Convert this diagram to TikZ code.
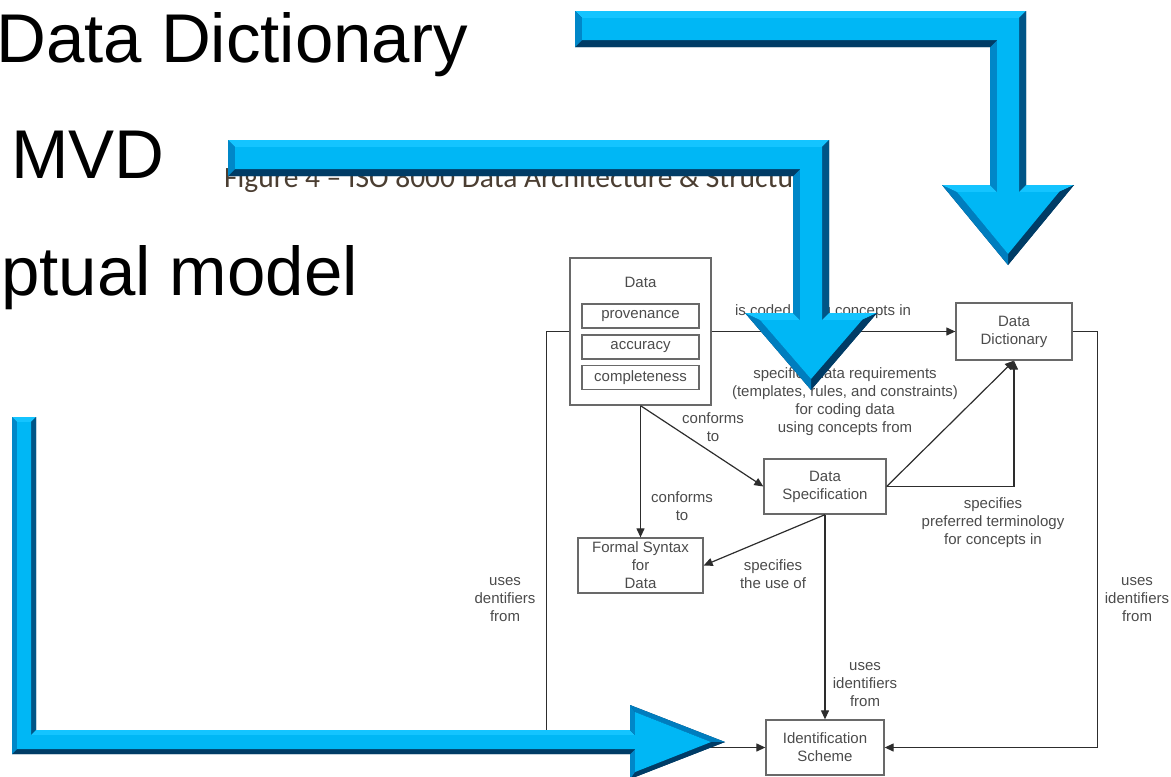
\documentclass[tikz,border=0pt]{standalone}
\usepackage{fontspec}
\setmainfont{Liberation Sans}
\newfontfamily\capfont{Carlito}
\usetikzlibrary{calc}
\usetikzlibrary{arrows.meta}
\definecolor{bevmain}{RGB}{0,183,245}
\definecolor{bevtop}{RGB}{20,196,255}
\definecolor{bevleft}{RGB}{0,135,200}
\definecolor{bevslant}{RGB}{0,125,190}
\definecolor{bevright}{RGB}{0,85,135}
\definecolor{bevdark}{RGB}{0,60,102}
\definecolor{linegray}{RGB}{45,45,45}
\definecolor{boxgray}{RGB}{105,105,105}
\definecolor{txtgray}{RGB}{75,75,75}
\definecolor{capgray}{RGB}{75,62,50}
\tikzset{box/.style={draw=boxgray,line width=1.3pt,inner sep=0pt,align=center,text=txtgray,font=\fontsize{15}{18}\selectfont}}
\tikzset{lbl/.style={inner sep=0pt,align=center,text=txtgray,font=\fontsize{15}{18}\selectfont}}
\tikzset{conn/.style={draw=linegray,line width=1.2pt,-{Triangle[length=9pt,width=8pt]}}}
\tikzset{bigtxt/.style={inner sep=0pt,anchor=base west,font=\fontsize{69}{80}\selectfont}}

\begin{document}
\begin{tikzpicture}[x=1pt,y=-1pt]
\useasboundingbox (0,0) rectangle (1171,777);
\clip (0,0) rectangle (1171,777);

% slide text
\node[bigtxt] (tdd) at (-4,62) {Data Dictionary};
\node[bigtxt] (tmvd) at (11,178) {MVD};
\node[bigtxt] (tcm) at (1,295) {ptual model};

% caption of the figure
\node[inner sep=0pt,anchor=base west,text=capgray,font=\capfont\fontsize{29.5}{34}\selectfont] (cap) at (224,187) {Figure 4 – ISO 8000 Data Architecture \& Structure};

% boxes
\node[box,minimum width=141pt,minimum height=147pt] (data) at (640.5,331.5) {};
\node[lbl] (datal) at (640.5,282) {Data};
\node[box,minimum width=117pt,minimum height=24pt] (prov) at (640.5,316) {provenance};
\node[box,minimum width=117pt,minimum height=24pt] (accu) at (640.5,347) {accuracy};
\node[box,minimum width=117pt,minimum height=24pt] (comp) at (640.5,377.5) {completeness};
\node[box,minimum width=116pt,minimum height=57pt] (dd) at (1014,331.5) {Data\\Dictionary};
\node[box,minimum width=122pt,minimum height=55pt] (spec) at (825,486.5) {Data\\Specification};
\node[box,minimum width=125pt,minimum height=55pt] (fsyn) at (640.5,565.5) {Formal Syntax\\for\\Data};
\node[box,minimum width=118pt,minimum height=55pt] (idsch) at (825,747.5) {Identification\\Scheme};

% connectors
\draw[conn] (data.east) -- (dd.west);
\draw[conn] (data.south) -- (fsyn.north);
\draw[conn] (data.south) -- (spec.west);
\draw[conn] (spec.east) -- (dd.south);
\draw[conn] (spec.east) -| (dd.south);
\draw[conn] (spec.south) -- (fsyn.east);
\draw[conn] (spec.south) -- (idsch.north);
\draw[conn] (data.west) -- ++(-23,0) |- (idsch.west);
\draw[conn] (dd.east) -- ++(25,0) |- (idsch.east);

% labels
\node[lbl] (lcoded) at (823,312) {is coded using concepts in};
\node[lbl] (lreq) at (845,401.5) {specifies data requirements\\(templates, rules, and constraints)\\for coding data\\using concepts from};
\node[lbl] (lconf1) at (713,427) {conforms\\to};
\node[lbl] (lconf2) at (682,506) {conforms\\to};
\node[lbl] (lterm) at (993,522.5) {specifies\\preferred terminology\\for concepts in};
\node[lbl] (luse) at (773,574) {specifies\\the use of};
\node[lbl] (lidmid) at (865,685) {uses\\identifiers\\from};
\node[lbl] (lidleft) at (505,600) {uses\\dentifiers\\from};
\node[lbl] (lidright) at (1137,600) {uses\\identifiers\\from};

% blue arrow to the data dictionary
\foreach \n/\x/\y in {1/575/11,2/1026/11,3/1026/185,4/1074/185,5/1008/265,6/942/185,7/990/185,8/990/47,9/575/47}
  \coordinate (a\n) at (\x,\y);
\foreach \n/\x/\y in {1/582/18,2/1019/18,3/1019/192,4/1059/192,5/1008/254,6/957/192,7/997/192,8/997/40,9/582/40}
  \coordinate (ai\n) at (\x,\y);

% blue arrow to the data specification
\foreach \n/\x/\y in {1/228/140,2/829/140,3/829/313,4/877/313,5/811/390,6/745/313,7/793/313,8/793/176,9/228/176}
  \coordinate (b\n) at (\x,\y);
\foreach \n/\x/\y in {1/235/147,2/822/147,3/822/320,4/862/320,5/811/379,6/760/320,7/800/320,8/800/169,9/235/169}
  \coordinate (bi\n) at (\x,\y);

\foreach \a in {a,b} {
  \fill[bevdark] (\a1) \foreach \n in {2,...,9} {-- (\a\n)} -- cycle;
  \foreach \p/\q/\c in {1/2/bevtop,2/3/bevright,3/4/bevtop,4/5/bevdark,5/6/bevslant,6/7/bevtop,7/8/bevleft,8/9/bevdark,9/1/bevleft}
    \fill[\c] (\a\p) -- (\a\q) -- (\a i\q) -- (\a i\p) -- cycle;
  \fill[bevmain] (\a i1) \foreach \n in {2,...,9} {-- (\a i\n)} -- cycle;
}

% blue arrow to the identification scheme
\foreach \n/\x/\y in {1/12/417,2/36/417,3/36/730,4/630/730,5/630/705,6/725/742,7/630/779,8/630/754,9/12/754}
  \coordinate (c\n) at (\x,\y);
\foreach \n/\x/\y in {1/17/422,2/31/422,3/31/735,4/635/735,5/635/712,6/711/742,7/635/772,8/635/749,9/17/749}
  \coordinate (ci\n) at (\x,\y);
\fill[bevdark] (c1) \foreach \n in {2,...,9} {-- (c\n)} -- cycle;
\foreach \p/\q/\c in {1/2/bevtop,2/3/bevright,3/4/bevtop,4/5/bevleft,5/6/bevslant,6/7/bevdark,7/8/bevleft,8/9/bevdark,9/1/bevleft}
  \fill[\c] (c\p) -- (c\q) -- (ci\q) -- (ci\p) -- cycle;
\fill[bevmain] (ci1) \foreach \n in {2,...,9} {-- (ci\n)} -- cycle;

\end{tikzpicture}
\end{document}
